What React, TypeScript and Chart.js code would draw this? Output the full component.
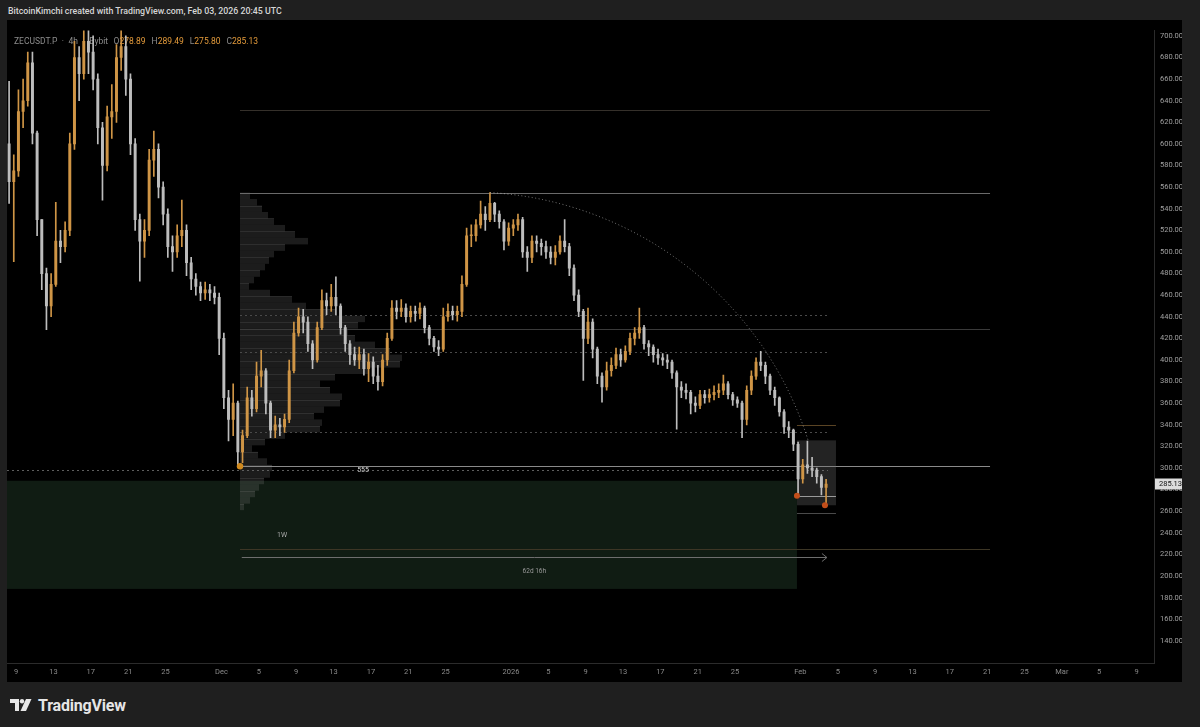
import React, { useEffect, useRef } from "react";
import { Chart, registerables } from "chart.js";

Chart.register(...registerables);

// Day numbers are counted so that Nov 1 2025 = 1, Dec 1 = 31, Jan 1 2026 = 62, Feb 1 = 93, Mar 1 = 121
const FIRST_CANDLE_DAY = 8; // Nov 8 00:00 UTC
const CANDLE_STEP_DAYS = 0.5; // 12h candles
const FIRST_OPEN = 600;

const candleHighs = [
  658, 590, 650, 660, 685, 685, 612, 530, 485, 480,
  546, 520, 528, 610, 695, 690, 712, 715, 700, 665,
  620, 635, 655, 692, 712, 700, 665, 605, 535, 530,
  595, 612, 600, 565, 540, 515, 525, 548, 525, 495,
  480, 472, 472, 470, 468, 462, 425, 372, 378, 362,
  335, 375, 372, 398, 409, 392, 362, 348, 346, 350,
  400, 435, 448, 447, 440, 418, 435, 465, 462, 470,
  477, 452, 432, 418, 412, 412, 410, 406, 403, 395,
  405, 425, 455, 455, 456, 452, 450, 450, 453, 450,
  432, 422, 418, 448, 452, 450, 450, 478, 522, 525,
  530, 547, 542, 555, 546, 538, 530, 527, 530, 535,
  532, 505, 515, 515, 512, 510, 505, 506, 515, 530,
  508, 488, 465, 447, 448, 438, 412, 388, 398, 402,
  411, 410, 413, 425, 430, 448, 432, 418, 414, 410,
  406, 405, 400, 390, 380, 378, 372, 366, 372, 372,
  373, 376, 378, 386, 380, 370, 366, 362, 376, 390,
  402, 408, 398, 387, 375, 366, 354, 343, 336, 324,
  308, 325, 310, 300, 294, 289.49,
];

const candleLows = [
  545, 491, 570, 615, 635, 600, 515, 465, 428, 440,
  468, 490, 500, 515, 595, 640, 660, 665, 650, 600,
  548, 575, 605, 620, 668, 645, 590, 520, 473, 495,
  515, 570, 550, 525, 495, 482, 495, 505, 478, 465,
  460, 455, 456, 455, 452, 405, 355, 325, 330, 301,
  305, 328, 348, 352, 375, 350, 328, 328, 330, 333,
  342, 388, 422, 425, 408, 392, 398, 428, 442, 445,
  442, 424, 408, 396, 395, 392, 386, 380, 378, 372,
  376, 395, 418, 438, 440, 435, 435, 436, 438, 425,
  414, 408, 404, 408, 436, 437, 436, 440, 468, 505,
  510, 522, 520, 528, 528, 522, 502, 506, 515, 520,
  495, 482, 490, 500, 497, 494, 489, 488, 498, 500,
  478, 455, 440, 381, 415, 402, 378, 361, 372, 385,
  392, 394, 398, 405, 414, 420, 410, 404, 398, 396,
  395, 392, 383, 336, 365, 364, 350, 352, 355, 360,
  361, 363, 365, 368, 364, 358, 356, 328, 340, 368,
  382, 390, 378, 368, 358, 348, 332, 328, 316, 275,
  286, 295, 292, 286, 275, 266,
];

const candleCloses = [
  565, 575, 630, 640, 675, 610, 530, 480, 450, 470,
  510, 505, 520, 600, 680, 665, 695, 685, 660, 615,
  580, 625, 630, 680, 690, 660, 600, 530, 510, 520,
  585, 595, 560, 535, 505, 500, 515, 520, 490, 475,
  468, 462, 465, 462, 458, 420, 365, 345, 360, 315,
  330, 365, 355, 385, 390, 360, 335, 340, 338, 345,
  390, 425, 440, 435, 415, 400, 430, 455, 450, 458,
  450, 430, 415, 405, 400, 405, 392, 398, 385, 380,
  400, 420, 448, 445, 448, 440, 445, 443, 448, 430,
  420, 412, 410, 440, 445, 442, 445, 470, 515, 515,
  525, 535, 530, 545, 535, 528, 510, 522, 525, 530,
  500, 495, 510, 508, 505, 500, 495, 500, 510, 505,
  485, 460, 445, 420, 435, 410, 385, 375, 390, 395,
  405, 400, 408, 420, 425, 430, 415, 412, 405, 402,
  400, 398, 388, 375, 372, 370, 360, 358, 368, 365,
  368, 370, 372, 378, 368, 363, 360, 345, 372, 385,
  398, 395, 385, 372, 365, 352, 338, 335, 322, 290,
  303, 300, 298, 292, 282, 285.13,
];

const xTickDays = [9, 13, 17, 21, 25, 31, 35, 39, 43, 47, 51, 55, 62, 66, 70, 74, 78, 82, 86, 93, 97, 101, 105, 109, 113, 117, 121, 125, 129];
const xTickLabels = ["9", "13", "17", "21", "25", "Dec", "5", "9", "13", "17", "21", "25", "2026", "5", "9", "13", "17", "21", "25", "Feb", "5", "9", "13", "17", "21", "25", "Mar", "5", "9"];
const yTickValues = [140, 160, 180, 200, 220, 240, 260, 280, 300, 320, 340, 360, 380, 400, 420, 440, 460, 480, 500, 520, 540, 560, 580, 600, 620, 640, 660, 680, 700];

// Volume profile (fixed range, anchored at the Dec 2 low)
const profilePrices = [552, 546, 540, 534, 528, 522, 516, 510, 504, 498, 492, 486, 480, 474, 468, 462, 456, 450, 444, 438, 432, 426, 420, 414, 408, 402, 396, 390, 384, 378, 372, 366, 360, 354, 348, 342, 336, 330, 324, 318, 312, 306, 300, 294, 288, 282, 276, 270, 264];
const profileVolume = [10, 17, 22, 28, 34, 45, 55, 68, 45, 34, 29, 25, 20, 14, 9, 30, 52, 66, 95, 125, 118, 108, 115, 135, 150, 162, 160, 128, 95, 80, 90, 102, 100, 84, 74, 82, 80, 45, 25, 12, 18, 27, 32, 30, 24, 19, 15, 10, 4];

// Drawings (time in days, price)
const rangeStartDay = 32.98;
const rangeEndDay = 113.31;
const lastBarDay = 95.95;
const solidLevels = [631.25, 555, 429.1, 301.6, 225.1];
const dottedLevels = [441.9, 407.3, 333.5];
const fullDottedLevel = 298.0;
const demandZone = { fromDay: 8, toDay: 92.63, low: 188.1, high: 288.2 };
const rangeBox = { fromDay: 92.63, toDay: 96.81, low: 265.5, high: 325.6 };
const boxLevels = [339.9, 274.3, 257.9];
const arcPoints = [
  { d: 59.76, p: 555 },
  { d: 76.57, p: 511.5 },
  { d: 93.81, p: 326 },
];
const lowMarker = { d: 32.98, p: 301.6 };
const redMarkers = [
  { d: 92.63, p: 274.3 },
  { d: 95.63, p: 265.5 },
];
const measureArrow = { fromDay: 33.17, toDay: 95.84, price: 217.4, label: "62d 16h", labelPrice: 204.2 };
const textNotes = [
  { d: 37.48, p: 237.9, text: "1W" },
  { d: 46.16, p: 298.0, text: "555" },
];
const lastPrice = 285.13;
const symbolParts = ["ZECUSDT.P", "·", "4h", "·", "Bybit"];
const ohlcParts = [
  { text: "O", value: "278.89" },
  { text: "H", value: "289.49" },
  { text: "L", value: "275.80" },
  { text: "C", value: "285.13" },
];

const UP = "#cf9546";
const DOWN = "#bdbdbd";

function candleDay(i: number) {
  return FIRST_CANDLE_DAY + i * CANDLE_STEP_DAYS + CANDLE_STEP_DAYS / 2;
}
function candleOpen(i: number) {
  return i === 0 ? FIRST_OPEN : candleCloses[i - 1];
}

function circleFrom3(a: any, b: any, c: any) {
  const d = 2 * (a.x * (b.y - c.y) + b.x * (c.y - a.y) + c.x * (a.y - b.y));
  const a2 = a.x * a.x + a.y * a.y;
  const b2 = b.x * b.x + b.y * b.y;
  const c2 = c.x * c.x + c.y * c.y;
  const ux = (a2 * (b.y - c.y) + b2 * (c.y - a.y) + c2 * (a.y - b.y)) / d;
  const uy = (a2 * (c.x - b.x) + b2 * (a.x - c.x) + c2 * (b.x - a.x)) / d;
  return { ux, uy, r: Math.hypot(a.x - ux, a.y - uy) };
}

const overlayPlugin = {
  id: "overlay",
  beforeDraw(chart: any) {
    const { ctx, width, height } = chart;
    ctx.save();
    ctx.fillStyle = "#000";
    ctx.fillRect(0, 0, width, height);
    ctx.restore();
  },
  beforeDatasetsDraw(chart: any) {
    const { ctx, chartArea: a, scales } = chart;
    const xs = scales.x;
    const ys = scales.y;
    const xv = scales.xv;
    const X = (d: number) => xs.getPixelForValue(d);
    const Y = (p: number) => ys.getPixelForValue(p);
    ctx.save();
    ctx.beginPath();
    ctx.rect(a.left, a.top, a.right - a.left, a.bottom - a.top);
    ctx.clip();

    // legend text
    ctx.font = "8.5px Roboto, sans-serif";
    ctx.textBaseline = "middle";
    let lx = a.left + 7;
    const ly = a.top + 11;
    ctx.fillStyle = "#8c8c8c";
    symbolParts.forEach((t) => {
      ctx.fillText(t, lx, ly);
      lx += ctx.measureText(t).width + 4.5;
    });
    lx += 1;
    ohlcParts.forEach((part) => {
      ctx.fillStyle = "#8c8c8c";
      ctx.fillText(part.text, lx, ly);
      lx += ctx.measureText(part.text).width;
      ctx.fillStyle = "#e39a3a";
      ctx.fillText(part.value, lx, ly);
      lx += ctx.measureText(part.value).width + 6;
    });

    // demand zone
    ctx.fillStyle = "#101c13";
    ctx.fillRect(X(demandZone.fromDay), Y(demandZone.high), X(demandZone.toDay) - X(demandZone.fromDay), Y(demandZone.low) - Y(demandZone.high));

    // volume profile
    const px0 = X(rangeStartDay);
    profilePrices.forEach((p, i) => {
      const w = xv.getPixelForValue(profileVolume[i]) - xv.getPixelForValue(0);
      const yt = Y(p + 3);
      const yb = Y(p - 3);
      ctx.fillStyle = "rgba(150,150,150,0.19)";
      ctx.fillRect(px0, yt, w, yb - yt);
      if (i % 2 === 0) {
        ctx.fillStyle = "rgba(170,170,170,0.14)";
        ctx.fillRect(px0, Math.round(yt), w, 1);
      }
    });

    const hline = (d0: number, d1: number, p: number, color: string, dash: number[]) => {
      const yy = Math.round(Y(p)) + 0.5;
      ctx.beginPath();
      ctx.setLineDash(dash);
      ctx.strokeStyle = color;
      ctx.lineWidth = 1;
      ctx.moveTo(X(d0), yy);
      ctx.lineTo(X(d1), yy);
      ctx.stroke();
    };
    const solidColors = ["#35302a", "#6a6a6a", "#3a3a3a", "#8a8a8a", "#3d3625"];
    solidLevels.forEach((p, i) => hline(rangeStartDay, rangeEndDay, p, solidColors[i], []));
    dottedLevels.forEach((p) => hline(rangeStartDay, lastBarDay, p, "#4a4a4a", [2, 3]));
    hline(xs.min, lastBarDay, fullDottedLevel, "#5e5e5e", [2, 3]);

    // range box
    ctx.setLineDash([]);
    ctx.fillStyle = "rgba(110,110,110,0.32)";
    ctx.fillRect(X(rangeBox.fromDay), Y(rangeBox.high), X(rangeBox.toDay) - X(rangeBox.fromDay), Y(rangeBox.low) - Y(rangeBox.high));
    const boxColors = ["#5a4424", "#9a9a9a", "#4a4a4a"];
    boxLevels.forEach((p, i) => hline(rangeBox.fromDay, rangeBox.toDay, p, boxColors[i], []));
    ctx.restore();
  },
  afterDatasetsDraw(chart: any) {
    const { ctx, chartArea: a, scales } = chart;
    const xs = scales.x;
    const ys = scales.y;
    const X = (d: number) => xs.getPixelForValue(d);
    const Y = (p: number) => ys.getPixelForValue(p);
    ctx.save();
    ctx.beginPath();
    ctx.rect(a.left, a.top, a.right - a.left, a.bottom - a.top);
    ctx.clip();

    // arc
    const pts = arcPoints.map((q) => ({ x: X(q.d), y: Y(q.p) }));
    const c = circleFrom3(pts[0], pts[1], pts[2]);
    const a1 = Math.atan2(pts[0].y - c.uy, pts[0].x - c.ux);
    const a3 = Math.atan2(pts[2].y - c.uy, pts[2].x - c.ux);
    ctx.beginPath();
    ctx.setLineDash([1, 2.5]);
    ctx.strokeStyle = "rgba(200,200,200,0.6)";
    ctx.lineWidth = 1;
    ctx.arc(c.ux, c.uy, c.r, a1, a3, false);
    ctx.stroke();
    ctx.setLineDash([]);

    // measure arrow
    const ay = Math.round(Y(measureArrow.price)) + 0.5;
    const ax0 = X(measureArrow.fromDay);
    const ax1 = X(measureArrow.toDay);
    ctx.strokeStyle = "#6e6e6e";
    ctx.beginPath();
    ctx.moveTo(ax0, ay);
    ctx.lineTo(ax1, ay);
    ctx.moveTo(ax1 - 5, ay - 4);
    ctx.lineTo(ax1, ay);
    ctx.lineTo(ax1 - 5, ay + 4);
    ctx.stroke();
    ctx.font = "6.5px Roboto, sans-serif";
    ctx.textAlign = "center";
    ctx.textBaseline = "middle";
    ctx.fillStyle = "#9a9a9a";
    ctx.fillText(measureArrow.label, X((measureArrow.fromDay + measureArrow.toDay) / 2), Y(measureArrow.labelPrice));

    ctx.font = "7px Roboto, sans-serif";
    textNotes.forEach((n, i) => {
      ctx.fillStyle = i === 0 ? "#a8a8a8" : "#d0d0d0";
      ctx.fillText(n.text, X(n.d), Y(n.p));
    });

    // markers
    ctx.beginPath();
    ctx.fillStyle = "#d08a1e";
    ctx.arc(X(lowMarker.d), Y(lowMarker.p), 3.2, 0, Math.PI * 2);
    ctx.fill();
    redMarkers.forEach((m) => {
      ctx.beginPath();
      ctx.fillStyle = "#c24e1a";
      ctx.arc(X(m.d), Y(m.p), 3, 0, Math.PI * 2);
      ctx.fill();
    });
    ctx.restore();

    // last price label on the axis
    ctx.save();
    const py = Y(lastPrice);
    ctx.fillStyle = "#dcdcdc";
    ctx.fillRect(a.right + 1, Math.round(py) - 5.5, chart.width - a.right - 1, 11);
    ctx.fillStyle = "#111";
    ctx.font = "7.5px Roboto, sans-serif";
    ctx.textBaseline = "middle";
    ctx.textAlign = "left";
    ctx.fillText(lastPrice.toFixed(2), a.right + 5, Math.round(py) + 0.5);
    ctx.restore();
  },
};

export default function App() {
  const ref = useRef<HTMLCanvasElement>(null);

  useEffect(() => {
    const n = candleCloses.length;
    const idx = Array.from({ length: n }, (_, i) => i);
    const colors = idx.map((i) => (candleCloses[i] >= candleOpen(i) ? UP : DOWN));
    const chart = new Chart(ref.current as HTMLCanvasElement, {
      type: "bar",
      data: {
        datasets: [
          {
            label: "wick",
            data: idx.map((i) => ({ x: candleDay(i), y: [candleLows[i], candleHighs[i]] })) as any,
            backgroundColor: colors,
            barThickness: 1,
            grouped: false,
            order: 2,
          } as any,
          {
            label: "body",
            data: idx.map((i) => ({ x: candleDay(i), y: [candleOpen(i), candleCloses[i]] })) as any,
            backgroundColor: colors,
            barThickness: 2.3,
            minBarLength: 1,
            grouped: false,
            order: 1,
          } as any,
        ],
      },
      options: {
        responsive: false,
        animation: false,
        events: [],
        layout: { padding: 0, autoPadding: false },
        plugins: { legend: { display: false }, tooltip: { enabled: false } },
        scales: {
          x: {
            type: "linear",
            position: "bottom",
            offset: false,
            min: 8.025,
            max: 130.87,
            grid: { display: false, drawTicks: false, offset: false },
            border: { display: true, color: "#2b2b2b" },
            ticks: {
              color: "#8a8a8a",
              font: { size: 7.5, family: "Roboto, sans-serif" },
              maxRotation: 0,
              autoSkip: false,
              padding: 5,
              callback: (v: any) => {
                const k = xTickDays.indexOf(Number(v));
                return k >= 0 ? xTickLabels[k] : "";
              },
            },
            afterBuildTicks: (s: any) => {
              s.ticks = xTickDays.map((v) => ({ value: v }));
            },
            afterFit: (s: any) => {
              s.height = 19;
            },
          },
          xv: {
            type: "linear",
            axis: "x",
            display: false,
            offset: false,
            min: 0,
            max: 1147,
          },
          y: {
            type: "linear",
            position: "right",
            min: 119.5,
            max: 705,
            grid: { display: false, drawTicks: false },
            border: { display: true, color: "#2b2b2b" },
            ticks: {
              color: "#a0a0a0",
              font: { size: 7.5, family: "Roboto, sans-serif" },
              padding: 6,
              callback: (v: any) => Number(v).toFixed(2),
            },
            afterBuildTicks: (s: any) => {
              s.ticks = yTickValues.map((v) => ({ value: v }));
            },
            afterFit: (s: any) => {
              s.width = 28;
            },
          },
        } as any,
      },
      plugins: [overlayPlugin as any],
    });
    return () => chart.destroy();
  }, []);

  return (
    <div
      style={{
        position: "fixed",
        left: 0,
        top: 0,
        width: 1200,
        height: 727,
        background: "#1f1f1f",
        overflow: "hidden",
        fontFamily: "Roboto, sans-serif",
      }}
    >
      <div
        style={{
          position: "absolute",
          left: 8,
          top: 6,
          fontSize: 8.8,
          lineHeight: "11px",
          color: "#d6d6d6",
          fontWeight: 500,
          whiteSpace: "nowrap",
        }}
      >
        BitcoinKimchi created with TradingView.com, Feb 03, 2026 20:45 UTC
      </div>
      <canvas
        ref={ref}
        width={1175}
        height={662}
        style={{ position: "absolute", left: 7, top: 20, width: 1175, height: 662 }}
      />
      <div style={{ position: "absolute", left: 10, top: 696, display: "flex", alignItems: "center", gap: 6 }}>
        <svg width="22" height="13" viewBox="0 0 22 13">
          <path d="M0 0 H9 V12 H5 V4 H0 Z" fill="#e6e6e6" />
          <circle cx="12" cy="2.2" r="2.2" fill="#e6e6e6" />
          <path d="M16 0 H21.5 L16 12 H10.5 Z" fill="#e6e6e6" />
        </svg>
        <span style={{ fontSize: 16, fontWeight: 700, color: "#e6e6e6", letterSpacing: -0.2 }}>TradingView</span>
      </div>
    </div>
  );
}
